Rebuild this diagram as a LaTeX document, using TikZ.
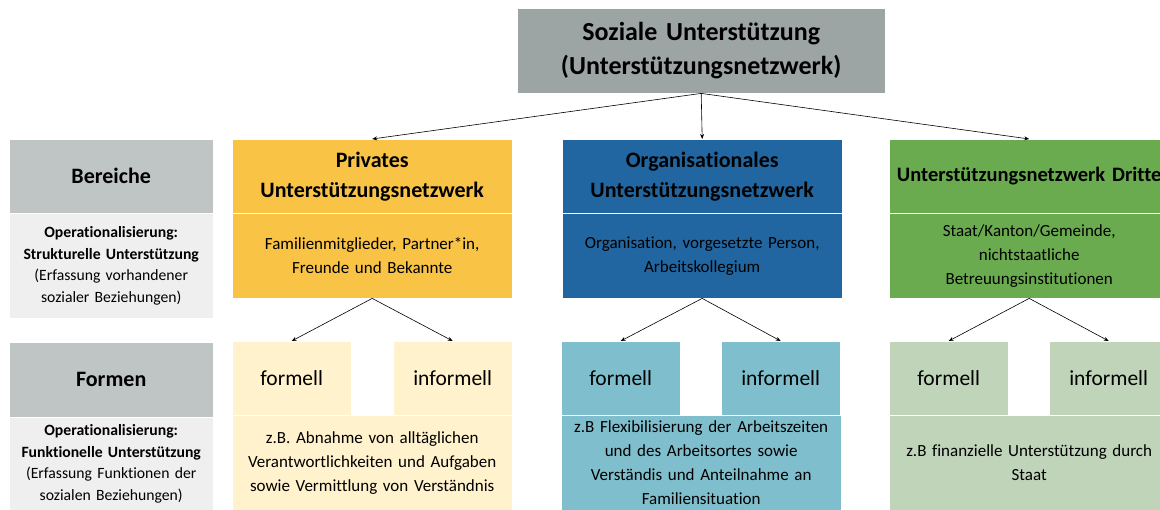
\documentclass[tikz,border=0pt]{standalone}
\usepackage{fontspec}
\setmainfont{Carlito}[Ligatures=NoCommon]
\usetikzlibrary{arrows.meta}

\definecolor{kopfgrau}{RGB}{157,165,164}
\definecolor{grau}{RGB}{191,197,196}
\definecolor{hellgrau}{RGB}{239,239,239}
\definecolor{gelb}{RGB}{249,195,70}
\definecolor{hellgelb}{RGB}{255,242,204}
\definecolor{blau}{RGB}{33,102,160}
\definecolor{hellblau}{RGB}{127,191,205}
\definecolor{gruen}{RGB}{106,171,79}
\definecolor{hellgruen}{RGB}{192,212,186}

\begin{document}
\begin{tikzpicture}[x=1pt,y=-1pt,
    box/.style={rectangle,anchor=north west,inner sep=0pt,align=center,
        draw=white,line width=0.4pt,minimum width=280,text width=270pt},
    titel/.style={font=\fontsize{22}{30}\selectfont\bfseries},
    info/.style={font=\fontsize{17}{24}\selectfont},
    klein/.style={font=\fontsize{15.7}{21.7}\selectfont},
    form/.style={box,minimum width=119,text width=115pt,minimum height=74,
        font=\fontsize{21.5}{26}\selectfont},
    pfeil/.style={-{Stealth[length=5pt,width=4pt]},line width=0.6pt}]
    \clip (0,0) rectangle (1160,510);

    \node[box,fill=kopfgrau,minimum width=368,text width=360pt,minimum height=85,
        font=\fontsize{26}{34}\selectfont\bfseries] (top) at (517,8)
        {Soziale Unterstützung\\(Unterstützungsnetzwerk)};

    % linke Spalte
    \node[box,titel,fill=grau,minimum width=204,text width=200pt,minimum height=74] (bereiche) at (9,139) {Bereiche};
    \node[box,klein,fill=hellgrau,minimum width=204,text width=200pt,minimum height=105] (opstruk) at (9,213)
        {\textbf{Operationalisierung:}\\\textbf{Strukturelle Unterstützung}\\(Erfassung vorhandener\\sozialer Beziehungen)};
    \node[box,titel,fill=grau,minimum width=204,text width=200pt,minimum height=75] (formen) at (9,342) {Formen};
    \node[box,klein,fill=hellgrau,minimum width=204,text width=200pt,minimum height=93] (opfunk) at (9,417)
        {\textbf{Operationalisierung:}\\\textbf{Funktionelle Unterstützung}\\(Erfassung Funktionen der\\sozialen Beziehungen)};

    % privat
    \node[box,titel,fill=gelb,minimum height=74] (priv) at (232,139) {Privates\\Unterstützungsnetzwerk};
    \node[box,info,fill=gelb,minimum height=85] (privtxt) at (232,213) {Familienmitglieder, Partner*in,\\Freunde und Bekannte};
    \node[form,fill=hellgelb] (privf) at (232,341) {formell};
    \node[form,fill=hellgelb] (privi) at (393,341) {informell};
    \node[box,info,fill=hellgelb,minimum height=95] (privbsp) at (232,415)
        {z.B. Abnahme von alltäglichen\\Verantwortlichkeiten und Aufgaben\\sowie Vermittlung von Verständnis};

    % organisational
    \node[box,titel,fill=blau,minimum height=74] (org) at (562,139) {Organisationales\\Unterstützungsnetzwerk};
    \node[box,info,fill=blau,minimum height=85] (orgtxt) at (562,213) {Organisation, vorgesetzte Person,\\Arbeitskollegium};
    \node[form,fill=hellblau] (orgf) at (561,341) {formell};
    \node[form,fill=hellblau] (orgi) at (721,341) {informell};
    \node[box,info,fill=hellblau,minimum height=95] (orgbsp) at (561,415)
        {z.B Flexibilisierung der Arbeitszeiten\\und des Arbeitsortes sowie\\Verständis und Anteilnahme an\\Familiensituation};

    % dritte
    \node[box,fill=gruen,minimum height=74,font=\fontsize{20.5}{28}\selectfont\bfseries] (dri) at (889,139) {Unterstützungsnetzwerk Dritte};
    \node[box,info,fill=gruen,minimum height=85] (dritxt) at (889,213) {Staat/Kanton/Gemeinde,\\nichtstaatliche\\Betreuungsinstitutionen};
    \node[form,fill=hellgruen] (drif) at (889,341) {formell};
    \node[form,fill=hellgruen] (drii) at (1049,341) {informell};
    \node[box,info,fill=hellgruen,minimum height=95] (dribsp) at (889,415)
        {z.B finanzielle Unterstützung durch\\Staat};

    \draw[pfeil] (top.south) -- (priv.north);
    \draw[pfeil] (top.south) -- (org.north);
    \draw[pfeil] (top.south) -- (dri.north);
    \foreach \a/\b/\c in {privtxt/privf/privi,orgtxt/orgf/orgi,dritxt/drif/drii}{
        \draw[pfeil] (\a.south) -- (\b.north);
        \draw[pfeil] (\a.south) -- (\c.north);
    }
\end{tikzpicture}
\end{document}
